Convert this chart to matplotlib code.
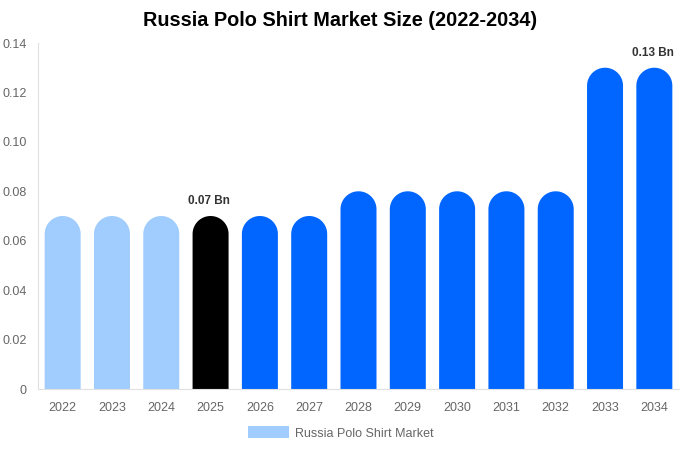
import numpy as np
import matplotlib.pyplot as plt
from matplotlib.patches import PathPatch, Patch
from matplotlib.path import Path

plt.rcParams["font.family"] = ["Liberation Sans", "DejaVu Sans"]

years = ["2022", "2023", "2024", "2025", "2026", "2027", "2028",
         "2029", "2030", "2031", "2032", "2033", "2034"]
values = [0.07, 0.07, 0.07, 0.07, 0.07, 0.07, 0.08,
          0.08, 0.08, 0.08, 0.08, 0.13, 0.13]
colors = ["#a0cdfd"] * 3 + ["#000000"] + ["#0066ff"] * 9
labels = {3: "0.07 Bn", 12: "0.13 Bn"}

W, H = 680, 450
L, R, T, B = 38, 679, 43, 389
fig = plt.figure(figsize=(W / 100, H / 100), dpi=100)
ax = fig.add_axes([L / W, (H - B) / H, (R - L) / W, (B - T) / H])

ymax = 0.14
ax.set_xlim(-0.5, len(years) - 0.5)
ax.set_ylim(0, ymax)

bw = 0.73
# cap radius in y units so the top is a true half circle on screen
px_x = (R - L) / len(years)
px_y = (B - T) / ymax
r_y = (bw / 2) * px_x / px_y


def rounded_bar(x, h, w, ry):
    t = np.linspace(np.pi, 0, 40)
    top = h - ry
    xs = [x - w / 2] + list(x + w / 2 * np.cos(t)) + [x + w / 2, x - w / 2]
    ys = [0] + list(top + ry * np.sin(t)) + [0, 0]
    verts = list(zip(xs, ys))
    codes = [Path.MOVETO] + [Path.LINETO] * (len(verts) - 2) + [Path.CLOSEPOLY]
    return Path(verts, codes)


for i, (v, c) in enumerate(zip(values, colors)):
    ax.add_patch(PathPatch(rounded_bar(i, v, bw, r_y), facecolor=c, edgecolor="none"))
    if i in labels:
        ax.text(i - 0.03, v + 0.0035, labels[i], ha="center", va="bottom",
                fontsize=8.5, fontweight="bold", color="#333333")

ax.set_xticks(range(len(years)))
ax.set_xticklabels(years)
ax.set_yticks([0, 0.02, 0.04, 0.06, 0.08, 0.10, 0.12, 0.14])
ax.set_yticklabels(["0", "0.02", "0.04", "0.06", "0.08", "0.10", "0.12", "0.14"])
ax.tick_params(axis="both", length=0, labelsize=9, colors="#666666")
ax.tick_params(axis="x", pad=9.5)
ax.tick_params(axis="y", pad=8)

for s in ["top", "right"]:
    ax.spines[s].set_visible(False)
ax.spines["left"].set_color("#e0e0e0")
ax.spines["bottom"].set_color("#e0e0e0")

fig.text(0.5, 1 - 21 / H, "Russia Polo Shirt Market Size (2022-2034)", ha="center", va="center",
         fontsize=14.3, fontweight="bold", color="#000000")

fig.legend(handles=[Patch(facecolor="#a0cdfd", edgecolor="none", label="Russia Polo Shirt Market")],
           loc="center", bbox_to_anchor=(341 / W, 1 - 433 / H), frameon=False,
           fontsize=9, labelcolor="#666666", handlelength=3.3, handleheight=1.1, handletextpad=0.5)

fig.savefig("out.png", dpi=100)
